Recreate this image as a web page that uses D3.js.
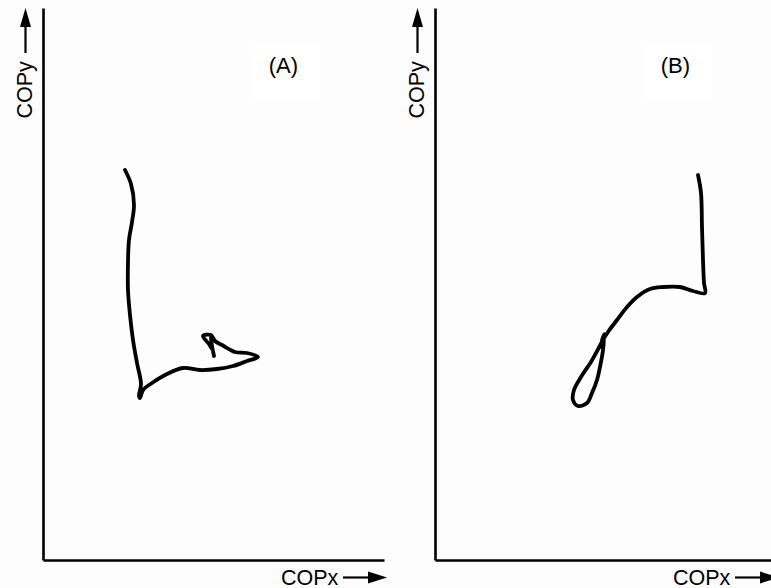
<!DOCTYPE html>
<html>
<head>
<meta charset="utf-8">
<script src="https://cdn.jsdelivr.net/npm/d3@7"></script>
<style>
  html, body { margin: 0; padding: 0; background: #fdfdfd; }
  svg { display: block; }
  text { font-family: "Liberation Sans", Arial, sans-serif; fill: #000; }
</style>
</head>
<body>
<svg id="chart" width="771" height="588"></svg>
<script>
// ---- data (COP coordinates, arbitrary units) ----
const panels = ["(A)", "(B)"];
const axisLabelX = "COPx";
const axisLabelY = "COPy";
const xMax = 34.1;
const yMax = 55.2;

const copxA = [8.2, 8.8, 9.1, 8.9, 8.6, 8.5, 8.5, 8.7, 9.0, 9.4, 9.8, 9.6, 9.7, 10.0, 10.9, 12.4, 14.0, 15.7, 17.4, 19.0, 20.4, 21.5, 20.4, 19.2, 17.9, 17.2, 16.8, 16.0, 16.6, 16.9, 16.8, 16.9, 17.1];
const copyA = [39.0, 37.6, 35.5, 33.8, 32.0, 29.8, 27.0, 24.5, 22.0, 19.7, 17.6, 16.4, 16.2, 17.0, 17.7, 18.6, 19.2, 19.0, 19.1, 19.4, 19.9, 20.3, 20.7, 20.8, 21.5, 21.9, 22.5, 22.4, 21.6, 21.1, 22.2, 21.4, 20.4];

const copxB = [26.3, 26.6, 26.7, 26.8, 26.9, 27.0, 25.8, 24.5, 22.8, 21.5, 20.2, 19.2, 18.2, 17.3, 16.8, 16.1, 15.6, 14.6, 13.9, 13.8, 14.3, 15.2, 15.7, 16.2, 16.5, 16.8, 16.9, 16.6, 16.9, 16.7];
const copyB = [38.5, 36.7, 33.3, 30.0, 27.7, 26.7, 26.9, 27.3, 27.3, 27.1, 26.3, 25.3, 24.0, 22.8, 22.0, 20.7, 19.8, 18.3, 17.0, 16.0, 15.4, 15.7, 16.7, 18.0, 19.3, 21.0, 22.3, 21.3, 22.6, 22.0];

const series = [
  { label: panels[0], xs: copxA, ys: copyA },
  { label: panels[1], xs: copxB, ys: copyB }
];

// ---- layout ----
const svg = d3.select("#chart");
const panelLeft = [43, 435];
const panelWidth = 341;
const plotTop = 8, plotBottom = 560;

const yScale = d3.scaleLinear().domain([0, yMax]).range([plotBottom, plotTop]);

series.forEach((s, i) => {
  const x = d3.scaleLinear().domain([0, xMax]).range([panelLeft[i], panelLeft[i] + panelWidth]);
  const y = yScale;
  const g = svg.append("g");

  // panel label with faint white box
  const lx = x(xMax * 0.705), ly = 73;
  g.append("rect").attr("x", lx - 34).attr("y", 44).attr("width", 70).attr("height", 56).attr("fill", "#ffffff");
  g.append("text").attr("x", lx).attr("y", ly).attr("text-anchor", "middle")
    .attr("font-size", 22).text(s.label);

  // axes (domain lines only)
  const yAxis = g.append("g").attr("transform", `translate(${x(0)},0)`)
    .call(d3.axisLeft(y).ticks(0).tickSizeOuter(0));
  const xAxis = g.append("g").attr("transform", `translate(0,${y(0)})`)
    .call(d3.axisBottom(x).ticks(0).tickSizeOuter(0));
  [yAxis, xAxis].forEach(a => a.select(".domain").attr("stroke", "#000").attr("stroke-width", 2.6));

  // trajectory
  const pts = s.xs.map((v, k) => [v, s.ys[k]]);
  const line = d3.line().x(d => x(d[0])).y(d => y(d[1])).curve(d3.curveCatmullRom.alpha(0.5));
  g.append("path").attr("d", line(pts)).attr("fill", "none").attr("stroke", "#000")
    .attr("stroke-width", 3.8).attr("stroke-linejoin", "round").attr("stroke-linecap", "round");

  // COPy label + arrow
  const yl = x(0) - 11;
  g.append("text").attr("transform", `translate(${yl},118.5) rotate(-90)`)
    .attr("font-size", 21.5).text(axisLabelY);
  const ax = x(0) - 17.5;
  g.append("line").attr("x1", ax).attr("x2", ax).attr("y1", 53).attr("y2", 22)
    .attr("stroke", "#000").attr("stroke-width", 2.2);
  g.append("path").attr("d", `M${ax},8 L${ax - 5.5},27 L${ax + 5.5},27 Z`).attr("fill", "#000");

  // COPx label + arrow
  const xr = x(xMax);
  g.append("text").attr("x", xr - 103).attr("y", 584.5).attr("font-size", 21.5).text(axisLabelX);
  g.append("line").attr("x1", xr - 41).attr("x2", xr - 10).attr("y1", 577.5).attr("y2", 577.5)
    .attr("stroke", "#000").attr("stroke-width", 2.2);
  g.append("path").attr("d", `M${xr + 3},577.5 L${xr - 16},571.5 L${xr - 16},583.5 Z`).attr("fill", "#000");
});
</script>
</body>
</html>
